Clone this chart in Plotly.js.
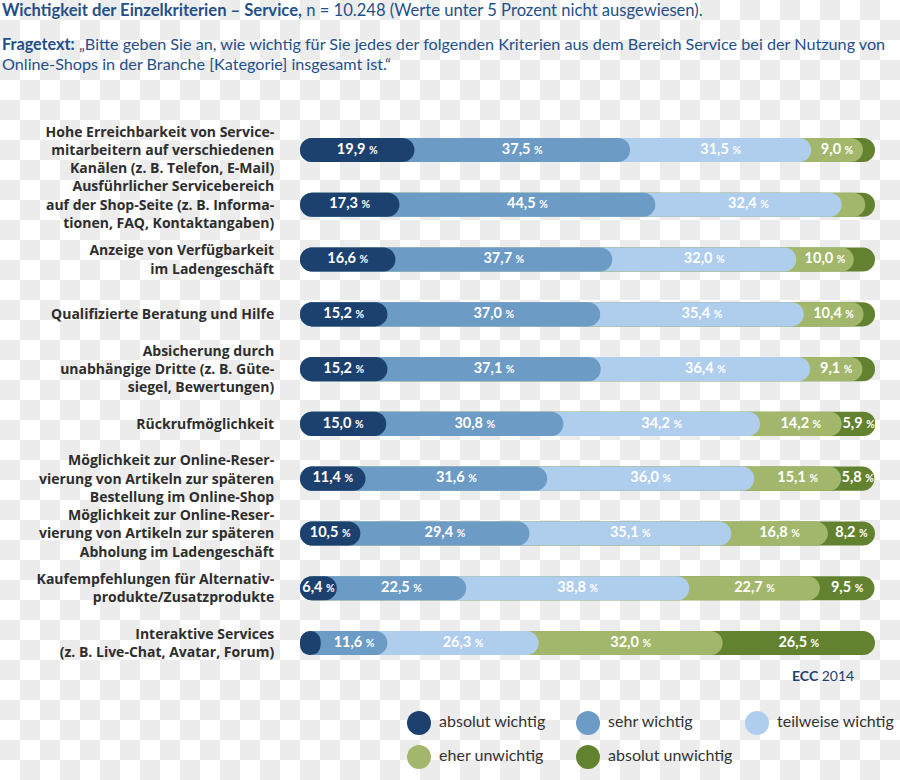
<!DOCTYPE html>
<html>
<head>
<meta charset="utf-8">
<script src="https://cdn.plot.ly/plotly-3.0.1.min.js"></script>
<style>
  html, body { margin: 0; padding: 0; }
  body {
    width: 900px; height: 780px; overflow: hidden;
    background-color: #ffffff;
    background-image: repeating-conic-gradient(#ececec 0% 25%, #ffffff 0% 50%);
    background-size: 40px 40px;
    background-position: 0 0;
  }
  #chart { width: 900px; height: 780px; }
</style>
</head>
<body>
<div id="chart"></div>
<script>
// ---- data ----
const categories = [
  "Hohe Erreichbarkeit von Service-<br>mitarbeitern auf verschiedenen<br>Kanälen (z. B. Telefon, E-Mail)",
  "Ausführlicher Servicebereich<br>auf der Shop-Seite (z. B. Informa-<br>tionen, FAQ, Kontaktangaben)",
  "Anzeige von Verfügbarkeit<br>im Ladengeschäft",
  "Qualifizierte Beratung und Hilfe",
  "Absicherung durch<br>unabhängige Dritte (z. B. Güte-<br>siegel, Bewertungen)",
  "Rückrufmöglichkeit",
  "Möglichkeit zur Online-Reser-<br>vierung von Artikeln zur späteren<br>Bestellung im Online-Shop",
  "Möglichkeit zur Online-Reser-<br>vierung von Artikeln zur späteren<br>Abholung im Ladengeschäft",
  "Kaufempfehlungen für Alternativ-<br>produkte/Zusatzprodukte",
  "Interaktive Services<br>(z. B. Live-Chat, Avatar, Forum)"
];
const absolutWichtig   = [19.9, 17.3, 16.6, 15.2, 15.2, 15.0, 11.4, 10.5, 6.4, 3.6];
const sehrWichtig      = [37.5, 44.5, 37.7, 37.0, 37.1, 30.8, 31.6, 29.4, 22.5, 11.6];
const teilweiseWichtig = [31.5, 32.4, 32.0, 35.4, 36.4, 34.2, 36.0, 35.1, 38.8, 26.3];
const eherUnwichtig    = [9.0, 4.1, 10.0, 10.4, 9.1, 14.2, 15.1, 16.8, 22.7, 32.0];
const absolutUnwichtig = [2.1, 1.7, 3.7, 2.0, 2.2, 5.9, 5.8, 8.2, 9.5, 26.5];
const seriesNames = ["absolut wichtig", "sehr wichtig", "teilweise wichtig", "eher unwichtig", "absolut unwichtig"];
const labelThreshold = 5;

// ---- styles ----
const colors = ["#1d416f", "#6c9bc6", "#afcdec", "#a2b76b", "#63822f"];
const FONT = "Lato, 'Open Sans', sans-serif";
const LABEL_FONT = "'Open Sans', Lato, sans-serif";
const series = [absolutWichtig, sehrWichtig, teilweiseWichtig, eherUnwichtig, absolutUnwichtig];

// cumulative ends
const cum = [];
series.forEach((s, k) => {
  cum.push(s.map((v, i) => (k === 0 ? 0 : cum[k - 1][i]) + v));
});
const zeros = categories.map(() => 0);

const traces = [];
const BARW = 0.44;
// pills (rounded at both ends) drawn from back (last series) to front (first series)
for (let k = series.length - 1; k >= 0; k--) {
  traces.push({
    type: "bar", orientation: "h",
    y: categories, base: zeros, x: cum[k],
    width: BARW,
    marker: { color: colors[k], cornerradius: "50%", line: { width: 0 } },
    hoverinfo: "skip", showlegend: false, xaxis: "x", yaxis: "y"
  });
}

// value labels
function fmt(v) {
  return v.toFixed(1).replace(".", ",") + ' <span style="font-size:10.5px">%</span>';
}
series.forEach((s, k) => {
  const xs = [], ys = [], ts = [];
  s.forEach((v, i) => {
    if (v >= labelThreshold) {
      const start = k === 0 ? 0 : cum[k - 1][i];
      xs.push(start + v / 2); ys.push(categories[i]); ts.push(fmt(v));
    }
  });
  traces.push({
    type: "scatter", mode: "text", x: xs, y: ys, text: ts,
    textposition: "middle center",
    textfont: { family: FONT, size: 14.5, color: "#ffffff", weight: "bold" },
    hoverinfo: "skip", showlegend: false, cliponaxis: false, xaxis: "x", yaxis: "y"
  });
});

// custom legend (large circles) on its own small axes
const legendCol = [0, 1, 2, 0, 1];
const legendRow = [0, 0, 0, 1, 1];
seriesNames.forEach((n, k) => {
  traces.push({
    type: "scatter", mode: "markers+text",
    x: [legendCol[k]], y: [legendRow[k]], text: ["\u00a0" + n],
    textposition: "middle right",
    textfont: { family: FONT, size: 16, color: "#333333" },
    marker: { size: 24, color: colors[k], symbol: "circle" },
    hoverinfo: "skip", showlegend: false, cliponaxis: false,
    xaxis: "x2", yaxis: "y2"
  });
});

const W = 900, H = 780;
const TITLE_COLOR = "#24508a";
const layout = {
  width: W, height: H,
  margin: { l: 0, r: 0, t: 0, b: 0 },
  paper_bgcolor: "rgba(0,0,0,0)",
  plot_bgcolor: "rgba(0,0,0,0)",
  barmode: "overlay",
  showlegend: false,
  xaxis: {
    domain: [300 / W, 875 / W], range: [0, 100],
    showgrid: false, zeroline: false, showticklabels: false, showline: false, fixedrange: true
  },
  yaxis: {
    domain: [1 - 670.4 / H, 1 - 122.6 / H],
    type: "category", autorange: false, range: [9.5, -0.5],
    showgrid: false, zeroline: false, showline: false,
    ticks: "outside", ticklen: 22, tickcolor: "rgba(0,0,0,0)",
    tickfont: { family: LABEL_FONT, size: 14, color: "#2e2e2e", weight: "bold" },
    fixedrange: true
  },
  xaxis2: {
    domain: [419 / W, 757 / W], range: [0, 2], anchor: "y2",
    visible: false, fixedrange: true
  },
  yaxis2: {
    domain: [1 - 757 / H, 1 - 723 / H], range: [1, 0], anchor: "x2",
    visible: false, fixedrange: true
  },
  annotations: [
    {
      xref: "paper", yref: "paper", x: 0, y: 1 - 10.5 / H, xanchor: "left", yanchor: "middle",
      showarrow: false, align: "left",
      text: "<b>Wichtigkeit der Einzelkriterien – Service,</b> n = 10.248 (Werte unter 5 Prozent nicht ausgewiesen).",
      font: { family: FONT, size: 16.6, color: TITLE_COLOR }
    },
    {
      xref: "paper", yref: "paper", x: 0, y: 1 - 43 / H, xanchor: "left", yanchor: "middle",
      showarrow: false, align: "left",
      text: "<b>Fragetext:</b> „Bitte geben Sie an, wie wichtig für Sie jedes der folgenden Kriterien aus dem Bereich Service bei der Nutzung von",
      font: { family: FONT, size: 16.2, color: TITLE_COLOR }
    },
    {
      xref: "paper", yref: "paper", x: 0, y: 1 - 63 / H, xanchor: "left", yanchor: "middle",
      showarrow: false, align: "left",
      text: "Online-Shops in der Branche [Kategorie] insgesamt ist.“",
      font: { family: FONT, size: 16.2, color: TITLE_COLOR }
    },
    {
      xref: "paper", yref: "paper", x: 856 / W, y: 1 - 675 / H, xanchor: "right", yanchor: "middle",
      showarrow: false, text: "<b>ECC</b> 2014",
      font: { family: FONT, size: 14, color: "#1f3f6e" }
    }
  ]
};

Plotly.newPlot("chart", traces, layout, { displayModeBar: false, staticPlot: true });
</script>
</body>
</html>
